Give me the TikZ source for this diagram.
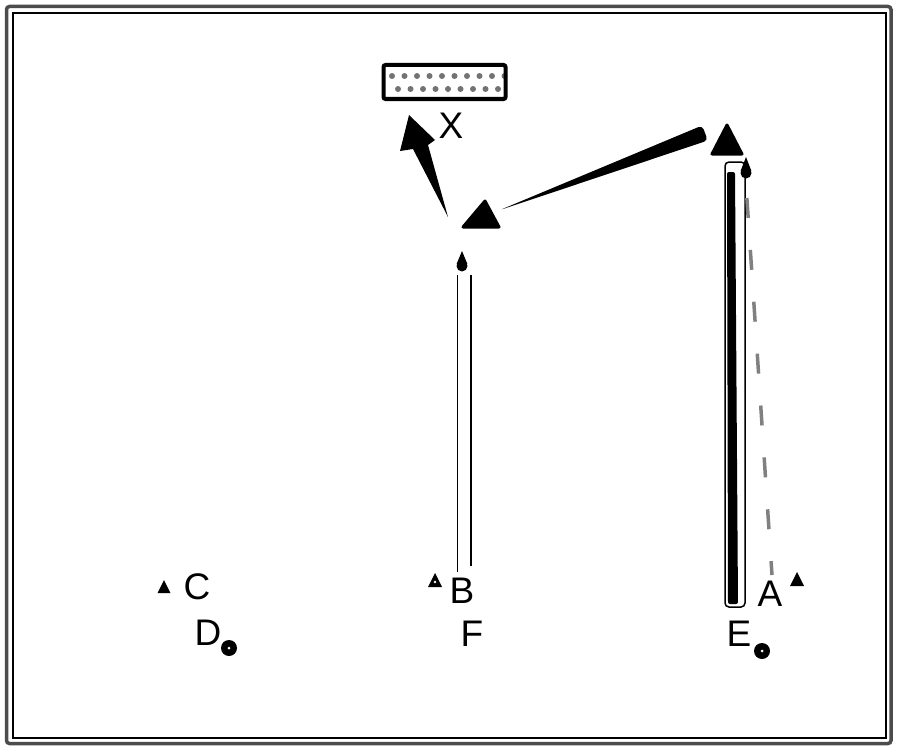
\documentclass[tikz,border=0pt]{standalone}
\usepackage{fontspec}
\setmainfont{Liberation Sans}
\begin{document}
\begin{tikzpicture}[x=1pt,y=-1pt,
  lbl/.style={font=\fontsize{37}{37}\selectfont, inner sep=0pt, anchor=center},
  marktri/.style={fill=black},
  markdot/.style={fill=black},
  thinline/.style={line width=1pt},
]
\useasboundingbox (0,0) rectangle (900,752);
% frame
\draw[line width=3.5pt, black!70, rounded corners=3pt] (6.5,6.5) rectangle (891,743.5);
\draw[line width=1.2pt] (13,13) rectangle (886,738);

% named points
\coordinate (W1tip) at (500,210);

% dotted rectangle (X target)
\foreach \i in {0,...,9} {
  \fill[black!55] (392+\i*12.5,76) circle (3pt);
}
\foreach \i in {0,...,8} {
  \fill[black!55] (398+\i*12.5,89) circle (3pt);
}
\node[draw=black, line width=4pt, minimum width=122pt, minimum height=34pt, inner sep=0pt, rounded corners=2pt] (box) at (444.5,82) {};
\node[lbl] (X) at (451,126) {X};

% arrow toward X
\fill (409,115) -- (435,140) -- (428,145) -- (448,217) -- (413,149) -- (400,151) -- cycle;

% triangle mid
\filldraw[line width=3pt, line join=round] (485,201) -- (499,227) -- (463,227) -- cycle;
% wedge between triangles
\fill[rounded corners=4pt] (W1tip) -- (707.8,140.5) -- (702.2,125.5) -- cycle;
% triangle right
\filldraw[line width=3pt, line join=round] (727,125) -- (742,154) -- (712,154) -- cycle;

% drops
\fill (746,173) circle (5.5pt);
\fill (740.6,171) -- (746,157) -- (751.4,171) -- cycle;
\fill (462,266) circle (5.5pt);
\fill (456.6,264) -- (462,251) -- (467.4,264) -- cycle;

% B bar
\draw[thinline] (457,275) -- (457,572);
\draw[line width=2pt] (471,275) -- (471,566);

% E bar
\draw[line width=1.5pt, rounded corners=4pt] (725,162) rectangle (745,607);
\fill[rounded corners=2pt] (727,172) -- (735,172) -- (738,604) -- (728,604) -- cycle;

% dashed gray line
\draw[black!50, line width=3.5pt, dash pattern=on 20pt off 32pt, dash phase=-13pt] (746,185) -- (772,575);

% labels and marks
\node[lbl] (C) at (197,587) {C};
\fill[marktri] (164,580) -- (170.5,593) -- (157.5,593) -- cycle;
\node[lbl] (D) at (208,633) {D};
\fill[markdot] (229,648) circle (8pt);
\fill[white] (229,648) circle (1.5pt);

\node[lbl] (B) at (462,591) {B};
\fill[marktri] (435,573) -- (442,587) -- (428,587) -- cycle;
\fill[white] (435,582) circle (1.3pt);
\node[lbl] (F) at (472,634) {F};

\node[lbl] (A) at (770,594) {A};
\fill[marktri] (797,572) -- (804,586) -- (790,586) -- cycle;
\node[lbl] (E) at (739,634) {E};
\fill[markdot] (762,651) circle (8pt);
\fill[white] (762,651) circle (1.5pt);
\end{tikzpicture}
\end{document}
